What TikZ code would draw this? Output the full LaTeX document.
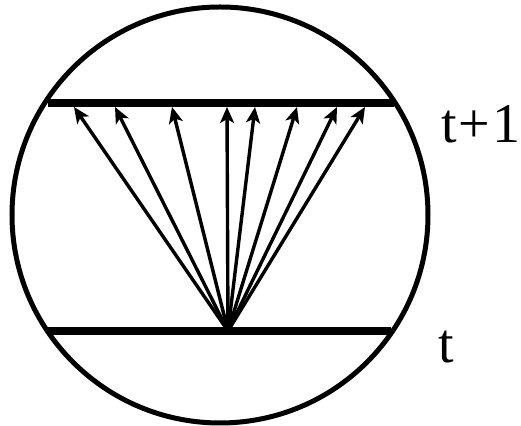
\documentclass[tikz,border=0pt]{standalone}
\usepackage{fontspec}
\setmainfont{Liberation Serif}
\newfontfamily\lblfont{Liberation Serif}
\usetikzlibrary{arrows.meta,positioning}

\begin{document}
\begin{tikzpicture}[
    x=0.5pt, y=-0.5pt,
    rim/.style={circle, draw, line width=2.5pt, inner sep=0pt, minimum size=208pt},
    level/.style={line width=3.8pt},
    arrow/.style={-{Stealth[length=8pt, width=7pt, inset=2pt]}, line width=1.7pt},
    lbl/.style={font=\lblfont\fontsize{28}{32}\selectfont, anchor=base west, inner sep=0pt}
]
\useasboundingbox (0,0) rectangle (521,426);
\node[rim] (cell) at (220,215) {};

% time levels
\coordinate (nl) at (48,103);
\coordinate (nr) at (394,103);
\coordinate (ol) at (48,331);
\coordinate (or) at (391,331);
\draw[level] (nl) -- (nr);
\draw[level] (ol) -- (or);

% fan of arrows
\coordinate (src) at (228,331);
\foreach \x [count=\i] in {74,115,172,227,255,297,337,365} {
    \coordinate (tip\i) at (\x,107);
    \draw[arrow] (src) -- (tip\i);
}

\node[lbl] (tnext) at (441,143) {t\kern1pt+\kern1pt1};
\node[lbl] (tnow) at (438,363) {t};
\end{tikzpicture}
\end{document}
